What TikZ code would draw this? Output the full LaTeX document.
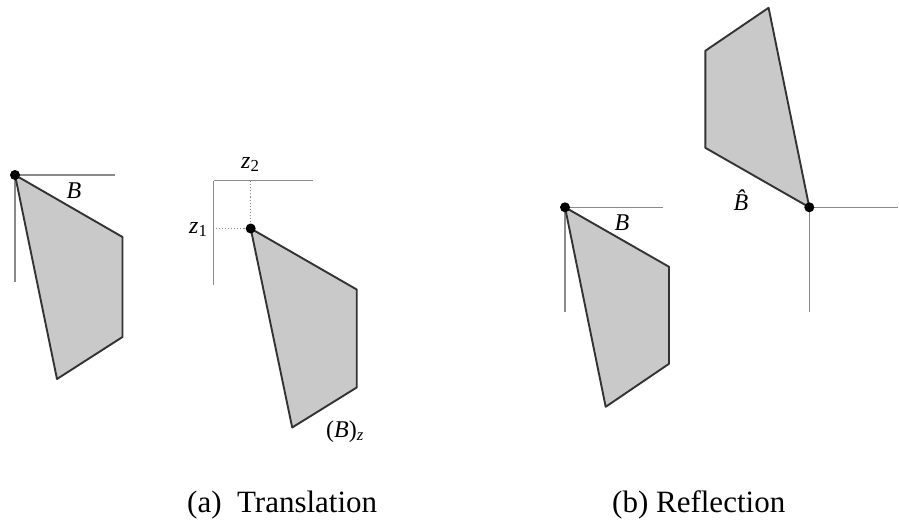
\documentclass[tikz,border=0pt]{standalone}
\usepackage{fontspec}
\setmainfont{Liberation Serif}
\definecolor{axisgray}{HTML}{8A8A8A}
\definecolor{edgegray}{HTML}{333333}
\definecolor{fillgray}{HTML}{C9C9C9}
\begin{document}
\begin{tikzpicture}[x=1pt,y=-1pt,
  axis/.style={draw=axisgray, line width=1.1pt},
  guide/.style={draw=axisgray, line width=1.1pt, dotted},
  shapeedge/.style={draw=edgegray, line width=1.9pt, fill=fillgray, line join=round},
  dot/.style={circle, fill=black, inner sep=0pt, minimum size=10pt},
  lab/.style={inner sep=0pt, font=\fontsize{24}{28}\selectfont},
  captext/.style={inner sep=0pt, font=\fontsize{31}{36}\selectfont, anchor=base west}]
\useasboundingbox (0,0) rectangle (899,524);

% ---------- (a) left: original B ----------
\coordinate (la) at (15,175);
\coordinate (lh) at (115,175);
\coordinate (lv) at (15,282);
\draw[axis] (la) -- (lh);
\draw[axis] (la) -- (lv);
\draw[shapeedge] (la) -- ++(107.5,62) -- ++(0,100) -- ++(-65.5,42) -- cycle;
\node[dot] (ldot) at (la) {};
\node[lab, anchor=base] (lB) at (74,198) {\textit{B}};

% ---------- (a) right: translated B ----------
\coordinate (mc) at (213.5,180.7);
\coordinate (mh) at (313.3,180.7);
\coordinate (mv) at (213.5,285);
\coordinate (ma) at (250.7,228.5);
\draw[axis] (mc) -- (mh);
\draw[axis] (mc) -- (mv);
\draw[guide] (ma) -- (ma |- mc);
\draw[guide] (ma) -- (ma -| mc);
\draw[shapeedge] (ma) -- ++(106,61) -- ++(0,98) -- ++(-64.5,40) -- cycle;
\node[dot] (mdot) at (ma) {};
\node[lab, anchor=base west] (z2) at (241,168) {\textit{z}\textsubscript{2}};
\node[lab, anchor=base west] (z1) at (189,233) {\textit{z}\textsubscript{1}};
\node[lab, anchor=base west] (Bz) at (326,437) {(\textit{B})\textsubscript{\textit{z}}};

% ---------- (b) left: original B ----------
\coordinate (ra) at (565,207.3);
\coordinate (rh) at (663.3,207.3);
\coordinate (rv) at (565,311.7);
\draw[axis] (ra) -- (rh);
\draw[axis] (ra) -- (rv);
\draw[shapeedge] (ra) -- ++(104,59.5) -- ++(0,97) -- ++(-63.3,43) -- cycle;
\node[dot] (rdot) at (ra) {};
\node[lab, anchor=base] (rB) at (622,230.5) {\textit{B}};

% ---------- (b) right: reflected B ----------
\coordinate (fa) at (809.3,207.3);
\coordinate (fh) at (898,207.3);
\coordinate (fv) at (809.3,311.7);
\draw[axis] (fa) -- (fh);
\draw[axis] (fa) -- (fv);
\draw[shapeedge] (fa) -- ++(-104,-59.5) -- ++(0,-97) -- ++(63.3,-43) -- cycle;
\node[dot] (fdot) at (fa) {};
\node[lab, anchor=base] (fB) at (745.5,210) {\textit{\^{B}}};

% ---------- captions ----------
\node[captext] (capa) at (187,512) {(a)\ \ Translation};
\node[captext] (capb) at (612,512) {(b) Reflection};
\end{tikzpicture}
\end{document}
